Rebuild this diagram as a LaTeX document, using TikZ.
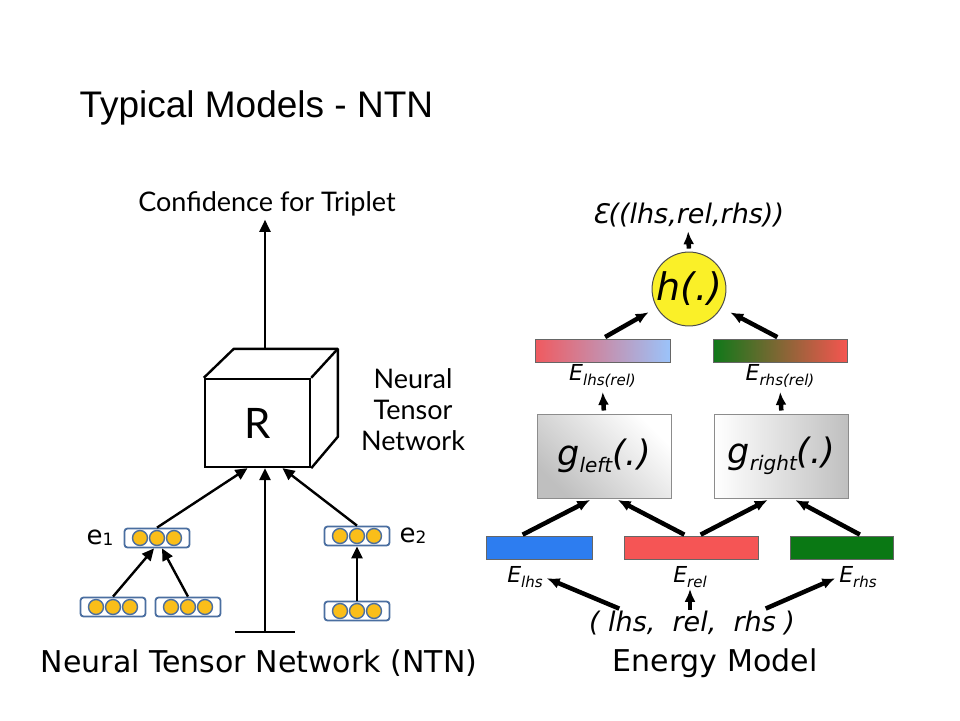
\documentclass[tikz,border=0pt]{standalone}
\usepackage{fontspec}
\newfontfamily\titlefont{Liberation Sans}
\newfontfamily\gillfont{Lato}
\newfontfamily\lucfont{DejaVu Sans}
\usepackage{tikz}
\usetikzlibrary{arrows.meta, positioning, calc}

\definecolor{vecblue}{RGB}{74,110,160}
\definecolor{unitgold}{RGB}{250,190,25}
\definecolor{hyellow}{RGB}{250,240,40}
\definecolor{lhsgradred}{RGB}{240,90,95}
\definecolor{lhsgradblue}{RGB}{155,195,250}
\definecolor{rhsgradgreen}{RGB}{15,120,25}
\definecolor{rhsgradred}{RGB}{245,85,80}
\definecolor{lhsblue}{RGB}{45,125,240}
\definecolor{relred}{RGB}{245,85,85}
\definecolor{rhsgreen}{RGB}{10,120,20}

\newcommand\gsub[1]{\raisebox{-7pt}{\fontsize{20}{22}\selectfont #1}}
\newcommand\esub[1]{\raisebox{-5pt}{\fontsize{15}{17}\selectfont #1}}
\newcommand\vecidx[1]{\raisebox{-1pt}{\fontsize{17}{19}\selectfont #1}}

\begin{document}
\begin{tikzpicture}[
    x=1pt, y=-1pt,
    headline/.style={font=\titlefont\fontsize{37}{40}\selectfont, anchor=west},
    gill/.style={font=\gillfont\fontsize{27}{31}\selectfont, align=center},
    capt/.style={font=\lucfont\fontsize{30}{34}\selectfont},
    cube/.style={rectangle, draw, line width=2.4pt, minimum width=105pt, minimum height=88pt, font=\gillfont\fontsize{42}{44}\selectfont},
    vec/.style={rectangle, draw=vecblue, line width=1.8pt, rounded corners=3pt, fill=white, minimum width=65pt, minimum height=19pt},
    unitdot/.style={draw=vecblue, line width=1.4pt, fill=unitgold},
    elab/.style={font=\lucfont\fontsize{26}{28}\selectfont, inner sep=1pt},
    line/.style={draw, line width=2.4pt, -{Triangle[length=12pt, width=11pt]}},
    fat/.style={draw, line width=4.5pt, -{Latex[length=13pt, width=11pt]}, shorten <=3pt, shorten >=3pt},
    embbar/.style={rectangle, draw=black!60, line width=1pt, minimum height=23pt, inner sep=0pt},
    gbox/.style={rectangle, draw=black!45, line width=1pt, minimum width=134pt, minimum height=84pt, font=\lucfont\itshape\fontsize{35}{36}\selectfont},
    mlab/.style={font=\lucfont\itshape\fontsize{22}{24}\selectfont, inner sep=1pt},
    mbig/.style={font=\lucfont\itshape\fontsize{27}{29}\selectfont, inner sep=1pt}
]
\useasboundingbox (0,0) rectangle (960,720);

\node[headline] (title) at (76,108) {Typical Models - NTN};

% Nodes for the Neural Tensor Network
\node[gill] (confidence) at (267,204) {Confidence for Triplet};
\node[cube] (tensor) at (257.5,423) {R};
\draw[line width=2.4pt, line join=round] (tensor.north west) -- ++(30,-29) -- ++(104,0) coordinate (backtr) -- ++(0,88) -- (tensor.south east);
\draw[line width=2.4pt] (tensor.north east) -- (backtr);
\node[gill] (ntnlabel) at (413,410) {Neural\\Tensor\\Network};

\node[vec] (e1) at (157,538) {};
\node[vec] (e1left) at (113,607) {};
\node[vec] (e1right) at (188,607) {};
\node[vec] (e2) at (357,536) {};
\node[vec] (e2below) at (357,611) {};
\foreach \v in {e1,e1left,e1right,e2,e2below}
    \foreach \dx in {-17,0,17}
        \draw[unitdot] ($(\v.center)+(\dx,0)$) circle (7.5pt);
\node[elab, left=9pt of e1] (e1lab) {e\vecidx{1}};
\node[elab, right=8pt of e2] (e2lab) {e\vecidx{2}};

\coordinate (cubetop) at ($(tensor.north)+(7.5,-29)$);
\coordinate (ground) at (265,632);
\draw[line width=2.4pt] ([xshift=-30pt]ground) -- ([xshift=30pt]ground);

% Connections into R
\path[line] (cubetop) -- (cubetop |- confidence.south);
\path[line] (ground) -- ([xshift=7.5pt]tensor.south);
\path[line] (e1.north) -- ([xshift=-10pt]tensor.south);
\path[line] (e2.north) -- ([xshift=25pt]tensor.south);
\path[line] (e1left.north) -- ([xshift=-3pt]e1.south);
\path[line] (e1right.north) -- ([xshift=5pt]e1.south);
\path[line] (e2below.north) -- (e2.south);

\node[capt] (ntncaption) at (259,663) {Neural Tensor Network (NTN)};

% Nodes for the Energy Model
\node[mbig] (energy) at (688,215) {Ɛ((lhs,rel,rhs))};
\node[circle, draw=black!70, line width=1pt, fill=hyellow, minimum size=64pt, inner sep=0pt, font=\lucfont\itshape\fontsize{38}{40}\selectfont] (h) at (689,289) {h(.)};

\node[embbar, minimum width=135pt, left color=lhsgradred, right color=lhsgradblue] (lhsrel) at (602.5,350.5) {};
\node[embbar, minimum width=134pt, left color=rhsgradgreen, right color=rhsgradred] (rhsrel) at (780,350.5) {};
\node[mlab, below=1pt of lhsrel] (lhsrellab) {E\esub{lhs(rel)}};
\node[mlab, below=1pt of rhsrel] (rhsrellab) {E\esub{rhs(rel)}};

\node[gbox, top color=white, bottom color=black!25, shading angle=-45] (gleft) at (604,456) {g\gsub{left}(.)};
\node[gbox, left color=white, right color=black!25] (gright) at (781.5,456) {g\gsub{right}(.)};

\node[embbar, minimum width=106pt, fill=lhsblue] (elhs) at (539,548) {};
\node[embbar, minimum width=134pt, fill=relred] (erel) at (691,548) {};
\node[embbar, minimum width=103pt, fill=rhsgreen] (erhs) at (841.5,548) {};
\node[mlab] (elhslab) at (525,577) {E\esub{lhs}};
\node[mlab] (erellab) at (690,577) {E\esub{rel}};
\node[mlab] (erhslab) at (858,577) {E\esub{rhs}};
\node[mbig] (triple) at (692,623) {( lhs,\ \ rel,\ \ rhs )};

% Energy Model flow
\path[fat] ([xshift=-70pt]triple.north) -- (elhslab.east);
\path[fat, shorten <=0pt, shorten >=0pt] ([xshift=-2pt]triple.north) -- (erellab.south);
\path[fat] ([xshift=71pt]triple.north) -- (erhslab.west);
\path[fat] ([xshift=-19pt]elhs.north) -- ([xshift=-11pt]gleft.south);
\path[fat] ([xshift=-4pt]erel.north) -- ([xshift=11pt]gleft.south);
\path[fat] ([xshift=7pt]erel.north) -- ([xshift=-11pt]gright.south);
\path[fat] ([xshift=21pt]erhs.north) -- ([xshift=11pt]gright.south);
\path[fat] (gleft.north) -- (lhsrellab.south);
\path[fat] (gright.north) -- (rhsrellab.south);
\path[fat, shorten >=9pt] (lhsrel.north) -- (h.210);
\path[fat, shorten >=10pt] (rhsrel.north) -- (h.330);
\path[fat] (h.north) -- (energy.south);

\node[capt] (energycaption) at (715,663) {Energy Model};

\end{tikzpicture}
\end{document}
